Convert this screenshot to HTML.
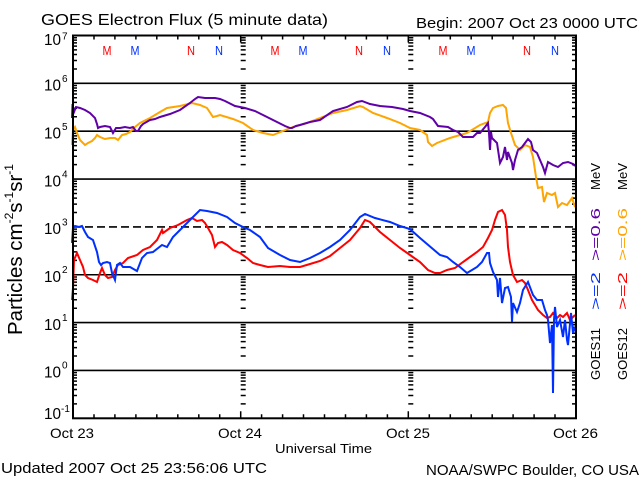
<!DOCTYPE html>
<html>
<head>
<meta charset="utf-8">
<style>
html,body{margin:0;padding:0;background:#fff;}
svg{display:block;}
text{font-family:"Liberation Sans",sans-serif;}
</style>
</head>
<body>
<svg width="640" height="480" viewBox="0 0 640 480" xmlns="http://www.w3.org/2000/svg">
<defs>
<path id="t4" d="M0 2.19h4M0 4.64h4M0 7.41h4M0 10.62h4M0 14.4h4M0 19.04h4M0 25.02h4M0 33.45h4" stroke="#000" stroke-width="1.5" fill="none"/>
<path id="t4r" d="M0 2.19h-4M0 4.64h-4M0 7.41h-4M0 10.62h-4M0 14.4h-4M0 19.04h-4M0 25.02h-4M0 33.45h-4" stroke="#000" stroke-width="1.5" fill="none"/>
<path id="t5" d="M0 2.19h5M0 4.64h5M0 7.41h5M0 10.62h5M0 14.4h5M0 19.04h5M0 25.02h5M0 33.45h5" stroke="#000" stroke-width="1.5" fill="none"/>
</defs>
<rect width="640" height="480" fill="#fff"/>

<!-- titles -->
<text x="41" y="25" font-size="16" textLength="287" lengthAdjust="spacingAndGlyphs">GOES Electron Flux (5 minute data)</text>
<text x="416" y="28" font-size="15" textLength="222" lengthAdjust="spacingAndGlyphs">Begin: 2007 Oct 23 0000 UTC</text>
<text x="1" y="473" font-size="15" textLength="266" lengthAdjust="spacingAndGlyphs">Updated 2007 Oct 25 23:56:06 UTC</text>
<text x="426" y="475" font-size="15" textLength="213" lengthAdjust="spacingAndGlyphs">NOAA/SWPC Boulder, CO USA</text>

<!-- x labels -->
<text x="50" y="438" font-size="14" textLength="44" lengthAdjust="spacingAndGlyphs">Oct 23</text>
<text x="218" y="438" font-size="14" textLength="44" lengthAdjust="spacingAndGlyphs">Oct 24</text>
<text x="386" y="438" font-size="14" textLength="44" lengthAdjust="spacingAndGlyphs">Oct 25</text>
<text x="553" y="438" font-size="14" textLength="45" lengthAdjust="spacingAndGlyphs">Oct 26</text>
<text x="275" y="453" font-size="13" textLength="97" lengthAdjust="spacingAndGlyphs">Universal Time</text>

<!-- y labels -->
<g font-size="16">
<text x="44" y="45" textLength="17" lengthAdjust="spacingAndGlyphs">10</text>
<text x="44" y="90.5" textLength="17" lengthAdjust="spacingAndGlyphs">10</text>
<text x="44" y="138.5" textLength="17" lengthAdjust="spacingAndGlyphs">10</text>
<text x="44" y="186.5" textLength="17" lengthAdjust="spacingAndGlyphs">10</text>
<text x="44" y="234" textLength="17" lengthAdjust="spacingAndGlyphs">10</text>
<text x="44" y="282" textLength="17" lengthAdjust="spacingAndGlyphs">10</text>
<text x="44" y="330" textLength="17" lengthAdjust="spacingAndGlyphs">10</text>
<text x="44" y="377.5" textLength="17" lengthAdjust="spacingAndGlyphs">10</text>
<text x="44" y="419" textLength="17" lengthAdjust="spacingAndGlyphs">10</text>
</g>
<g font-size="10">
<text x="62" y="39.5">7</text>
<text x="62" y="82">6</text>
<text x="62" y="130">5</text>
<text x="62" y="177.5">4</text>
<text x="62" y="225.5">3</text>
<text x="62" y="273">2</text>
<text x="62" y="321">1</text>
<text x="62" y="368.5">0</text>
<text x="61" y="412">-1</text>
</g>

<!-- y axis title -->
<text transform="translate(22,335) rotate(-90)" font-size="20.5">Particles cm<tspan font-size="12" dy="-9">-2</tspan><tspan dy="9">s</tspan><tspan font-size="12" dy="-9">-1</tspan><tspan dy="9">sr</tspan><tspan font-size="12" dy="-9">-1</tspan></text>

<!-- right legend labels -->
<g font-size="12.5">
<text transform="translate(600,380) rotate(-90)" textLength="52" lengthAdjust="spacingAndGlyphs" fill="#000">GOES11</text>
<text transform="translate(600,310) rotate(-90)" textLength="38" lengthAdjust="spacingAndGlyphs" fill="#0030ff">&gt;=2</text>
<text transform="translate(600,261) rotate(-90)" textLength="53" lengthAdjust="spacingAndGlyphs" fill="#6000a8">&gt;=0.6</text>
<text transform="translate(600,190) rotate(-90)" textLength="27" lengthAdjust="spacingAndGlyphs" fill="#000">MeV</text>
<text transform="translate(627,380) rotate(-90)" textLength="52" lengthAdjust="spacingAndGlyphs" fill="#000">GOES12</text>
<text transform="translate(627,310) rotate(-90)" textLength="38" lengthAdjust="spacingAndGlyphs" fill="#ff0000">&gt;=2</text>
<text transform="translate(627,261) rotate(-90)" textLength="53" lengthAdjust="spacingAndGlyphs" fill="#ffa500">&gt;=0.6</text>
<text transform="translate(627,190) rotate(-90)" textLength="27" lengthAdjust="spacingAndGlyphs" fill="#000">MeV</text>
</g>

<!-- M / N markers -->
<g font-size="13" text-anchor="middle">
<text x="107" y="55" fill="#ff0000" textLength="9" lengthAdjust="spacingAndGlyphs">M</text>
<text x="135" y="55" fill="#0030ff" textLength="9" lengthAdjust="spacingAndGlyphs">M</text>
<text x="191" y="55" fill="#ff0000" textLength="8" lengthAdjust="spacingAndGlyphs">N</text>
<text x="219" y="55" fill="#0030ff" textLength="8" lengthAdjust="spacingAndGlyphs">N</text>
<text x="275" y="55" fill="#ff0000" textLength="9" lengthAdjust="spacingAndGlyphs">M</text>
<text x="303" y="55" fill="#0030ff" textLength="9" lengthAdjust="spacingAndGlyphs">M</text>
<text x="359" y="55" fill="#ff0000" textLength="8" lengthAdjust="spacingAndGlyphs">N</text>
<text x="387" y="55" fill="#0030ff" textLength="8" lengthAdjust="spacingAndGlyphs">N</text>
<text x="443" y="55" fill="#ff0000" textLength="9" lengthAdjust="spacingAndGlyphs">M</text>
<text x="471" y="55" fill="#0030ff" textLength="9" lengthAdjust="spacingAndGlyphs">M</text>
<text x="527" y="55" fill="#ff0000" textLength="8" lengthAdjust="spacingAndGlyphs">N</text>
<text x="555" y="55" fill="#0030ff" textLength="8" lengthAdjust="spacingAndGlyphs">N</text>
</g>

<!-- grid lines -->
<g stroke="#000" stroke-width="1.6" fill="none">
<path d="M73 83.35H576M73 131.2H576M73 179.05H576M73 274.75H576M73 322.6H576M73 370.45H576"/>
<path d="M73 226.9H576" stroke-dasharray="8 4"/>
</g>

<!-- minor ticks: left, right, middle -->
<g>
<use href="#t4" x="73" y="35.5"/><use href="#t4" x="73" y="83.35"/><use href="#t4" x="73" y="131.2"/><use href="#t4" x="73" y="179.05"/>
<use href="#t4" x="73" y="226.9"/><use href="#t4" x="73" y="274.75"/><use href="#t4" x="73" y="322.6"/><use href="#t4" x="73" y="370.45"/>
<use href="#t4r" x="576" y="35.5"/><use href="#t4r" x="576" y="83.35"/><use href="#t4r" x="576" y="131.2"/><use href="#t4r" x="576" y="179.05"/>
<use href="#t4r" x="576" y="226.9"/><use href="#t4r" x="576" y="274.75"/><use href="#t4r" x="576" y="322.6"/><use href="#t4r" x="576" y="370.45"/>
<use href="#t5" x="240.7" y="35.5"/><use href="#t5" x="240.7" y="83.35"/><use href="#t5" x="240.7" y="131.2"/><use href="#t5" x="240.7" y="179.05"/>
<use href="#t5" x="240.7" y="226.9"/><use href="#t5" x="240.7" y="274.75"/><use href="#t5" x="240.7" y="322.6"/><use href="#t5" x="240.7" y="370.45"/>
<use href="#t5" x="408.3" y="35.5"/><use href="#t5" x="408.3" y="83.35"/><use href="#t5" x="408.3" y="131.2"/><use href="#t5" x="408.3" y="179.05"/>
<use href="#t5" x="408.3" y="226.9"/><use href="#t5" x="408.3" y="274.75"/><use href="#t5" x="408.3" y="322.6"/><use href="#t5" x="408.3" y="370.45"/>
</g>

<!-- time ticks -->
<g stroke="#000" stroke-width="1.5" fill="none">
<path d="M94 418.3v-4M114.9 418.3v-4M135.9 418.3v-4M156.8 418.3v-4M177.8 418.3v-4M198.8 418.3v-4M219.7 418.3v-4M261.6 418.3v-4M282.6 418.3v-4M303.5 418.3v-4M324.5 418.3v-4M345.5 418.3v-4M366.4 418.3v-4M387.4 418.3v-4M429.3 418.3v-4M450.3 418.3v-4M471.2 418.3v-4M492.2 418.3v-4M513.1 418.3v-4M534.1 418.3v-4M555 418.3v-4"/>
<path d="M240.7 418.3v-7M408.3 418.3v-7"/>
<path d="M94 35.5v4M114.9 35.5v4M135.9 35.5v4M156.8 35.5v4M177.8 35.5v4M198.8 35.5v4M219.7 35.5v4M261.6 35.5v4M282.6 35.5v4M303.5 35.5v4M324.5 35.5v4M345.5 35.5v4M366.4 35.5v4M387.4 35.5v4M429.3 35.5v4M450.3 35.5v4M471.2 35.5v4M492.2 35.5v4M513.1 35.5v4M534.1 35.5v4M555 35.5v4"/>
<path d="M240.7 35.5v7M408.3 35.5v7"/>
</g>

<!-- data series -->
<g fill="none" stroke-width="2" stroke-linejoin="miter">
<polyline stroke="#ffa500" points="72,145 73,130 75,127 77,133 80,140 85,145 88,143 92,141 95,138 97,135 100,137 105,139 110,138 115,138 118,140 122,135 126,134 130,132 135,127 140,123 150,118 160,112 167,108 180,106 192,103 200,105 207,108 213,117 217,116 220,115 233,119 243,123 253,130 263,133 273,135 283,131 293,127 307,123 320,118 333,113 347,110 360,106 363,107 373,113 387,118 400,123 410,128 420,130 427,135 428,142 432,146 437,143 450,138 467,133 480,125 488,122 490,113 493,108 498,106 503,105 506,108 508,123 511,133 515,145 520,150 525,145 530,147 533,157 536,177 538,188 542,187 544,202 547,193 552,195 555,193 558,207 562,203 567,205 572,198 575,207"/>
<polyline stroke="#6000a8" points="72,118 72.5,104 74,112 76,107 80,108 85,110 90,113 95,118 97,124 98,128 100,127 105,126 110,127 113,133 116,128 120,128 125,127 130,128 133,127 136,131 138,131 141,126 143,124 150,120 155,119 160,117 170,114 180,110 190,103 195,99 198,97 205,98 215,98 220,99 225,101 235,106 245,108 255,111 265,116 275,121 285,126 290,128 292,128 296,126 300,125 310,122 320,120 333,111 347,107 357,102 362,101 370,104 380,106 392,107 403,109 410,111 420,113 430,117 433,119 438,126 448,127 453,130 458,132 463,137 470,137 473,137 477,133 480,133 485,127 488,123 489,133 490,150 491,132 492,138 497,143 500,163 503,157 505,147 507,160 508,152 512,163 513,170 515,160 518,150 522,147 525,143 528,139 531,142 533,150 537,153 540,160 543,167 545,173 548,162 553,165 558,167 563,163 568,162 573,164 575,166"/>
<polyline stroke="#ff0000" points="72,300 73,288 74,260 77,253 80,260 83,267 85,275 88,278 93,280 97,282 100,273 102,268 105,275 108,278 112,277 115,270 118,265 123,263 128,258 137,255 143,250 150,247 157,240 162,230 163,233 170,228 178,225 187,220 192,218 197,221 202,220 205,223 208,228 212,235 215,247 218,243 222,242 227,245 233,250 240,253 247,258 253,263 260,265 268,267 280,266 290,267 300,267 310,264 320,261 330,256 340,248 350,240 360,228 365,220 370,222 380,232 390,240 400,248 410,255 420,262 428,270 435,273 440,273 447,270 455,268 463,262 470,257 477,252 483,247 488,238 492,230 495,220 498,212 502,210 505,215 507,230 508,247 510,262 513,275 517,282 522,280 525,283 528,290 532,300 535,305 538,310 543,315 547,318 550,317 553,313 557,318 560,315 563,317 567,313 570,320 573,317 575,315"/>
<polyline stroke="#0030ff" points="72,243 73,228 75,226 79,227 82,226 85,232 88,237 93,240 97,252 99,262 101,265 103,263 107,262 110,263 112,273 115,280 117,265 120,263 123,267 130,267 137,271 142,258 147,253 153,252 162,245 167,247 173,237 183,227 193,217 200,210 207,211 217,213 227,217 235,223 243,227 250,230 260,237 268,248 280,255 290,260 300,262 310,258 320,253 330,247 340,240 350,230 360,217 365,214 375,218 390,222 400,226 410,229 420,238 440,255 447,257 453,262 460,267 467,273 472,270 477,267 482,262 487,253 489,253 490,263 493,272 497,280 498,297 500,278 502,303 505,288 508,287 511,297 512,322 513,303 517,312 520,303 523,290 528,282 533,295 537,300 542,300 545,310 547,315 548,320 550,343 552,325 553,393 554,320 555,307 557,327 560,320 563,337 565,320 567,340 568,345 571,313 573,333 575,327"/>
</g>

<!-- frame -->
<rect x="73" y="35.5" width="503" height="382.8" fill="none" stroke="#000" stroke-width="2"/>
</svg>
</body>
</html>
